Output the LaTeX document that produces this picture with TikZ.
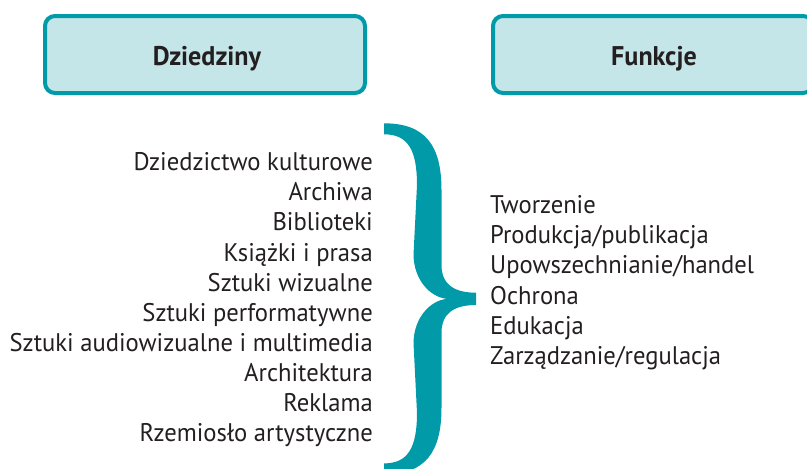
\documentclass[tikz,border=0pt]{standalone}
\usepackage{fontspec}
\setmainfont{PT Sans}[FakeStretch=0.966]
\definecolor{teal1}{HTML}{009AA8}
\definecolor{boxfill}{HTML}{C5E6E8}
\definecolor{txt}{HTML}{231F20}
\begin{document}
\begin{tikzpicture}[x=1pt,y=-1pt,
  headbox/.style={draw=teal1,fill=boxfill,line width=4pt,rounded corners=10pt},
  headtext/.style={font=\fontsize{27}{31}\selectfont\bfseries,text=txt,inner sep=0pt},
  leftitem/.style={font=\fontsize{25.5}{30}\selectfont,text=txt,inner sep=0pt,anchor=base east},
  rightitem/.style={font=\fontsize{25.5}{30}\selectfont,text=txt,inner sep=0pt,anchor=base west}]
\useasboundingbox (0,0) rectangle (807,469);
\clip (0,0) rectangle (807,469);
% header boxes
\draw[headbox] (45,16) rectangle (365,93);
\draw[headbox] (493,16) rectangle (813,93);
\node[headtext,anchor=base] (dz) at (207,65) {Dziedziny};
\node[headtext,anchor=base] (fu) at (654,65) {Funkcje};
% left list
\node[leftitem] (d1) at (373,170.7) {Dziedzictwo kulturowe};
\node[leftitem] (d2) at (373,200.8) {Archiwa};
\node[leftitem] (d3) at (373,230.9) {Biblioteki};
\node[leftitem] (d4) at (373,261.0) {Książki i prasa};
\node[leftitem] (d5) at (373,291.1) {Sztuki wizualne};
\node[leftitem] (d6) at (373,321.2) {Sztuki performatywne};
\node[leftitem] (d7) at (373,351.3) {Sztuki audiowizualne i multimedia};
\node[leftitem] (d8) at (373,381.4) {Architektura};
\node[leftitem] (d9) at (373,411.5) {Reklama};
\node[leftitem] (d10) at (373,441.6) {Rzemiosło artystyczne};
% right list
\node[rightitem] (f1) at (490,213.3) {Tworzenie};
\node[rightitem] (f2) at (490,243.6) {Produkcja/publikacja};
\node[rightitem] (f3) at (490,273.9) {Upowszechnianie/handel};
\node[rightitem] (f4) at (490,304.2) {Ochrona};
\node[rightitem] (f5) at (490,334.5) {Edukacja};
\node[rightitem] (f6) at (490,364.8) {Zarządzanie/regulacja};
% brace
\fill[teal1] (384,123.3)
  .. controls (425,123.3) and (441.5,145) .. (441.5,190)
  -- (441.5,265)
  .. controls (441.5,285) and (455,292.7) .. (476,292.7)
  -- (476,305)
  .. controls (455,305) and (441.5,312.7) .. (441.5,332.7)
  -- (441.5,407.7)
  .. controls (441.5,452.7) and (425,474.4) .. (384,474.4)
  -- (384,463.4)
  .. controls (408,463.4) and (417,447.7) .. (417,412.7)
  -- (413.5,342.7)
  .. controls (414,317.7) and (430,300.7) .. (446.7,298.85)
  .. controls (430,297) and (414,280) .. (413.5,255)
  -- (417,185)
  .. controls (417,150) and (408,134.3) .. (384,134.3)
  -- cycle;
\end{tikzpicture}
\end{document}
